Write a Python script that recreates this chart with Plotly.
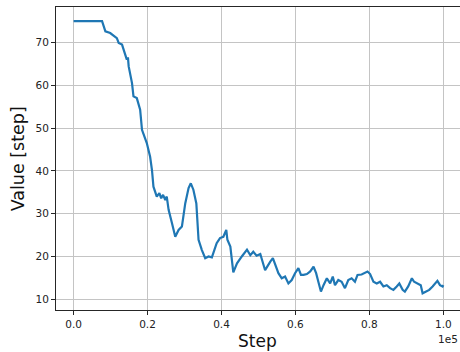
import plotly.graph_objects as go

# Training curve: value per step
steps = [
    0, 7700, 8600, 9900, 11700, 12200, 13100, 14000, 14400, 14700, 14900,
    15800, 16200, 17100, 18000, 18500, 19000, 19800, 20700, 21200, 21600,
    22500, 23200, 23700, 24200, 24800, 25200, 25700, 26600, 27500, 28400,
    29300, 30200, 31100, 31700, 32400, 33200, 33800, 34700, 35600, 36500,
    37400, 38700, 39600, 40500, 41300, 41600, 42400, 43200, 44200, 45500,
    46900, 47800, 48600, 49500, 50500, 51800, 52700, 53200, 53900, 54500,
    55400, 56300, 57200, 58100, 59000, 59900, 60800, 61500, 62200, 63100,
    64000, 64900, 65600, 66200, 66900, 67600, 68500, 69400, 70100, 70700,
    71600, 72500, 73400, 74300, 75200, 76100, 76800, 77900, 78800, 79500,
    80200, 81100, 82000, 82900, 83800, 84700, 85600, 86500, 87400, 88100,
    89000, 89600, 90500, 91500, 92100, 93000, 93900, 94400, 95300, 96200,
    97100, 97800, 98400, 99100, 99800, 100000,
]
values = [
    75.0, 75.0, 72.6, 72.2, 71.0, 69.9, 69.5, 67.1, 66.0, 66.5, 64.4,
    60.5, 57.4, 57.0, 54.3, 49.6, 48.5, 46.5, 43.3, 40.2, 36.3,
    34.0, 34.8, 33.6, 34.4, 33.2, 34.0, 30.9, 27.8, 24.6, 26.2,
    27.0, 32.4, 36.0, 37.1, 35.6, 32.4, 23.9, 21.5, 19.6, 20.0,
    19.8, 23.1, 24.3, 24.6, 26.2, 23.9, 22.3, 16.3, 18.4, 20.0,
    21.6, 20.3, 21.1, 20.2, 20.6, 16.8, 18.2, 18.8, 19.6, 18.0,
    16.1, 14.9, 15.3, 13.7, 14.5, 16.1, 17.3, 15.7, 15.7, 15.9,
    16.5, 17.6, 16.1, 14.1, 11.8, 13.3, 14.9, 13.7, 15.3, 13.3,
    14.5, 14.1, 12.6, 14.5, 14.9, 14.1, 15.7, 15.8, 16.1, 16.5,
    15.9, 14.1, 13.7, 14.1, 13.0, 13.3, 12.6, 12.2, 13.0, 13.7,
    12.2, 11.8, 13.0, 14.9, 14.1, 13.7, 13.3, 11.4, 11.8, 12.2,
    13.0, 13.7, 14.3, 13.3, 13.0, 13.3,
]

x_tickvals = [0, 20000, 40000, 60000, 80000, 100000]
x_ticktext = ["0.0", "0.2", "0.4", "0.6", "0.8", "1.0"]
y_tickvals = [10, 20, 30, 40, 50, 60, 70]

FONT = "DejaVu Sans"
W, H = 460, 352
L, T, B, R = 55.7, 7.3, 42.0, 0.0
plot_w = W - L - R
plot_h = H - T - B

fig = go.Figure()
fig.add_trace(go.Scatter(
    x=steps, y=values, mode="lines",
    line=dict(color="#1f77b4", width=2.2),
    showlegend=False, hoverinfo="skip",
))

axis_common = dict(
    showgrid=True, gridcolor="#c4c4c4", gridwidth=1,
    zeroline=False, showline=True, linecolor="#262626", linewidth=1,
    ticks="outside", ticklen=4, tickwidth=1, tickcolor="#262626",
    tickfont=dict(family=FONT, size=10.5, color="#222222"),
)

fig.update_layout(
    width=W, height=H,
    margin=dict(l=L, r=R, t=T, b=B, pad=0),
    paper_bgcolor="white", plot_bgcolor="white",
    font=dict(family=FONT, color="#222222"),
    xaxis=dict(
        range=[-4757, 104514], tickvals=x_tickvals, ticktext=x_ticktext,
        mirror=True, **axis_common,
    ),
    yaxis=dict(
        range=[7.5, 78.28], tickvals=y_tickvals, mirror=False,
        **axis_common,
    ),
)

# axis titles and the scale factor note
fig.add_annotation(
    text="Step", xref="paper", yref="paper",
    x=(257.8 - L) / plot_w, y=-(340.5 - (H - B)) / plot_h,
    xanchor="center", yanchor="middle", showarrow=False,
    font=dict(family=FONT, size=17, color="#111111"),
)
fig.add_annotation(
    text="Value [step]", xref="paper", yref="paper",
    x=(17.5 - L) / plot_w, y=0.5, textangle=-90,
    xanchor="center", yanchor="middle", showarrow=False,
    font=dict(family=FONT, size=17.5, color="#111111"),
)
fig.add_annotation(
    text="1e5", xref="paper", yref="paper",
    x=1.0, y=-(339 - (H - B)) / plot_h,
    xanchor="right", yanchor="middle", showarrow=False,
    font=dict(family=FONT, size=10.5, color="#222222"),
)

fig.write_html("out.html")
